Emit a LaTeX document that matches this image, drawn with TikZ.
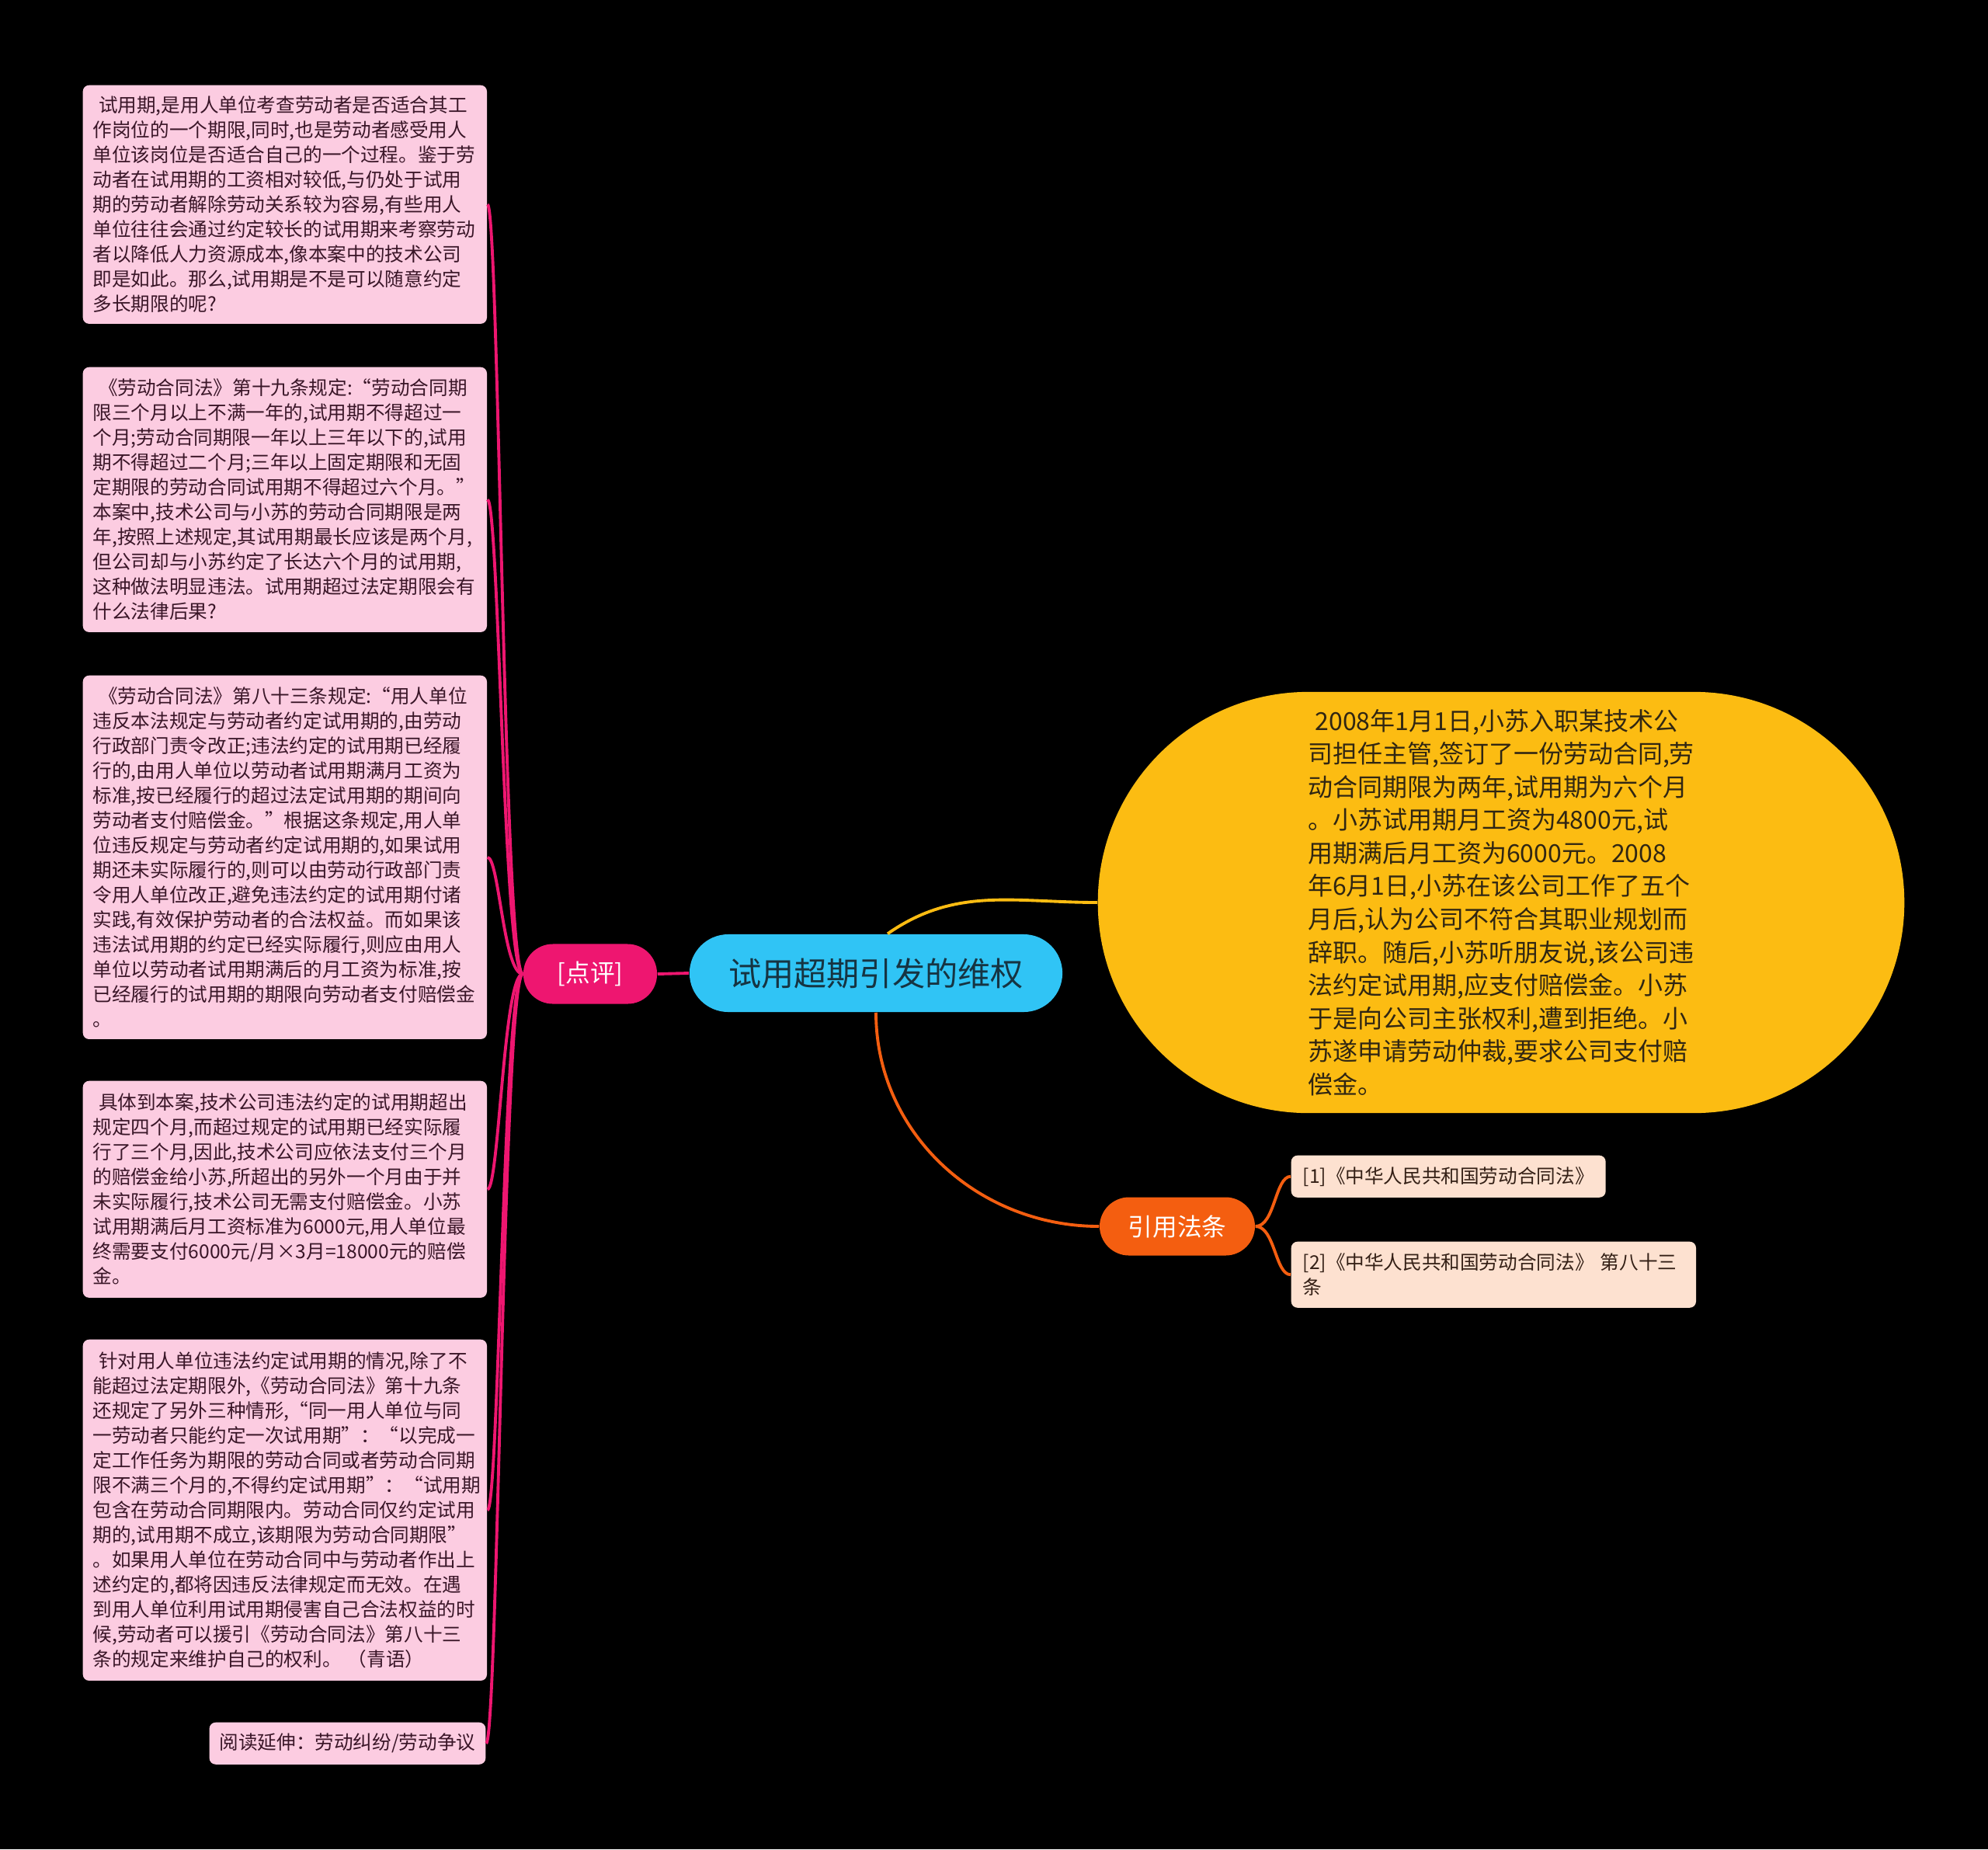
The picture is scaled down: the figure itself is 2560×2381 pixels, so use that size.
\documentclass[tikz,border=0pt]{standalone}
\usepackage{fontspec}
\setmainfont{Noto Sans CJK SC}
\usepackage{tikz}
\usetikzlibrary{calc,positioning}
\definecolor{notePink}{RGB}{252,204,225}
\definecolor{noteText}{RGB}{58,22,40}
\definecolor{hotPink}{RGB}{238,22,112}
\definecolor{skyBlue}{RGB}{48,196,245}
\definecolor{skyText}{RGB}{22,52,66}
\definecolor{caseYellow}{RGB}{252,188,18}
\definecolor{caseText}{RGB}{48,38,18}
\definecolor{lawOrange}{RGB}{244,94,16}
\definecolor{lawPeach}{RGB}{253,225,208}
\definecolor{lawText}{RGB}{52,32,22}
\newcommand{\lead}{\hspace*{0.3em}}

\begin{document}
\begin{tikzpicture}[x=0.01cm,y=0.01cm,
    note/.style={fill=notePink, text=noteText, rounded corners=0.08cm, align=left,
        inner xsep=0.13cm, text width=4.94cm, font=\fontsize{7}{9.1}\selectfont},
    branch/.style={rounded corners=0.38cm, text=white, minimum height=0.77cm,
        font=\fontsize{9}{11}\selectfont},
    refbox/.style={fill=lawPeach, text=lawText, rounded corners=0.08cm, align=left,
        inner xsep=0.15cm, font=\fontsize{7}{9.1}\selectfont},
    pinkline/.style={hotPink, line width=1.1pt},
    lawline/.style={lawOrange, line width=1.1pt}]
    \fill[black] (0,0) rectangle (2560,-2381);

    % centre and first branches
    \node[fill=skyBlue, text=skyText, rounded corners=0.5cm, minimum width=4.8cm,
        minimum height=1.0cm, font=\fontsize{12}{14}\selectfont] (main) at (1128,-1253) {试用超期引发的维权};
    \node[branch, fill=hotPink, minimum width=1.72cm] (dp) at (760,-1254) {[点评]};
    \node[branch, fill=lawOrange, minimum width=2.0cm, minimum height=0.75cm] (law) at (1516,-1579) {引用法条};
    \node[fill=caseYellow, text=caseText, rounded corners=2.71cm, minimum width=10.38cm,
        minimum height=5.42cm, align=left, font=\fontsize{9.1}{12.1}\selectfont] (story) at (1933,-1162)
        {\lead 2008年1月1日,小苏入职某技术公\\
        司担任主管,签订了一份劳动合同,劳\\
        动合同期限为两年,试用期为六个月\\
        。小苏试用期月工资为4800元,试\\
        用期满后月工资为6000元。2008\\
        年6月1日,小苏在该公司工作了五个\\
        月后,认为公司不符合其职业规划而\\
        辞职。随后,小苏听朋友说,该公司违\\
        法约定试用期,应支付赔偿金。小苏\\
        于是向公司主张权利,遭到拒绝。小\\
        苏遂申请劳动仲裁,要求公司支付赔\\
        偿金。};

    % comments on the left
    \node[note, anchor=north west, minimum height=3.07cm] (c1) at (106,-109)
        {\lead 试用期,是用人单位考查劳动者是否适合其工\\
        作岗位的一个期限,同时,也是劳动者感受用人\\
        单位该岗位是否适合自己的一个过程。鉴于劳\\
        动者在试用期的工资相对较低,与仍处于试用\\
        期的劳动者解除劳动关系较为容易,有些用人\\
        单位往往会通过约定较长的试用期来考察劳动\\
        者以降低人力资源成本,像本案中的技术公司\\
        即是如此。那么,试用期是不是可以随意约定\\
        多长期限的呢?};
    \node[note, anchor=north west, minimum height=3.41cm] (c2) at (106,-472)
        {\lead《劳动合同法》第十九条规定:“劳动合同期\\
        限三个月以上不满一年的,试用期不得超过一\\
        个月;劳动合同期限一年以上三年以下的,试用\\
        期不得超过二个月;三年以上固定期限和无固\\
        定期限的劳动合同试用期不得超过六个月。”\\
        本案中,技术公司与小苏的劳动合同期限是两\\
        年,按照上述规定,其试用期最长应该是两个月,\\
        但公司却与小苏约定了长达六个月的试用期,\\
        这种做法明显违法。试用期超过法定期限会有\\
        什么法律后果?};
    \node[note, anchor=north west, minimum height=4.68cm] (c3) at (106,-869)
        {\lead《劳动合同法》第八十三条规定:“用人单位\\
        违反本法规定与劳动者约定试用期的,由劳动\\
        行政部门责令改正;违法约定的试用期已经履\\
        行的,由用人单位以劳动者试用期满月工资为\\
        标准,按已经履行的超过法定试用期的期间向\\
        劳动者支付赔偿金。”根据这条规定,用人单\\
        位违反规定与劳动者约定试用期的,如果试用\\
        期还未实际履行的,则可以由劳动行政部门责\\
        令用人单位改正,避免违法约定的试用期付诸\\
        实践,有效保护劳动者的合法权益。而如果该\\
        违法试用期的约定已经实际履行,则应由用人\\
        单位以劳动者试用期满后的月工资为标准,按\\
        已经履行的试用期的期限向劳动者支付赔偿金\\
        。};
    \node[note, anchor=north west, minimum height=2.79cm] (c4) at (106,-1391)
        {\lead 具体到本案,技术公司违法约定的试用期超出\\
        规定四个月,而超过规定的试用期已经实际履\\
        行了三个月,因此,技术公司应依法支付三个月\\
        的赔偿金给小苏,所超出的另外一个月由于并\\
        未实际履行,技术公司无需支付赔偿金。小苏\\
        试用期满后月工资标准为6000元,用人单位最\\
        终需要支付6000元/月×3月=18000元的赔偿\\
        金。};
    \node[note, anchor=north west, minimum height=4.39cm] (c5) at (106,-1724)
        {\lead 针对用人单位违法约定试用期的情况,除了不\\
        能超过法定期限外,《劳动合同法》第十九条\\
        还规定了另外三种情形,“同一用人单位与同\\
        一劳动者只能约定一次试用期”：“以完成一\\
        定工作任务为期限的劳动合同或者劳动合同期\\
        限不满三个月的,不得约定试用期”：“试用期\\
        包含在劳动合同期限内。劳动合同仅约定试用\\
        期的,试用期不成立,该期限为劳动合同期限”\\
        。如果用人单位在劳动合同中与劳动者作出上\\
        述约定的,都将因违反法律规定而无效。在遇\\
        到用人单位利用试用期侵害自己合法权益的时\\
        候,劳动者可以援引《劳动合同法》第八十三\\
        条的规定来维护自己的权利。 （青语）};
    \node[note, text width=, anchor=north east, minimum height=0.54cm] (c6) at (626,-2217)
        {阅读延伸：劳动纠纷/劳动争议};

    % cited laws
    \node[refbox, anchor=north west, minimum height=0.54cm] (r1) at (1662,-1487)
        {[1]《中华人民共和国劳动合同法》};
    \node[refbox, anchor=north west, minimum height=0.85cm, text width=4.91cm] (r2) at (1662,-1598)
        {[2]《中华人民共和国劳动合同法》 第八十三\\条};

    % connectors
    \draw[pinkline] (main.west) -- (dp.east);
    \foreach \c in {c1,c2,c3,c4,c5,c6}
        \draw[pinkline] (dp.west) .. controls +(-25,0) and +(15,0) .. (\c.east);
    \draw[caseYellow, line width=1.1pt] ([xshift=0.15cm]main.north) to[out=35,in=180] (story.west);
    \draw[lawline] (main.south) to[out=-90,in=180] (law.west);
    \draw[lawline] (law.east) .. controls +(25,0) and +(-20,0) .. (r1.west);
    \draw[lawline] (law.east) .. controls +(25,0) and +(-20,0) .. (r2.west);
\end{tikzpicture}
\end{document}
